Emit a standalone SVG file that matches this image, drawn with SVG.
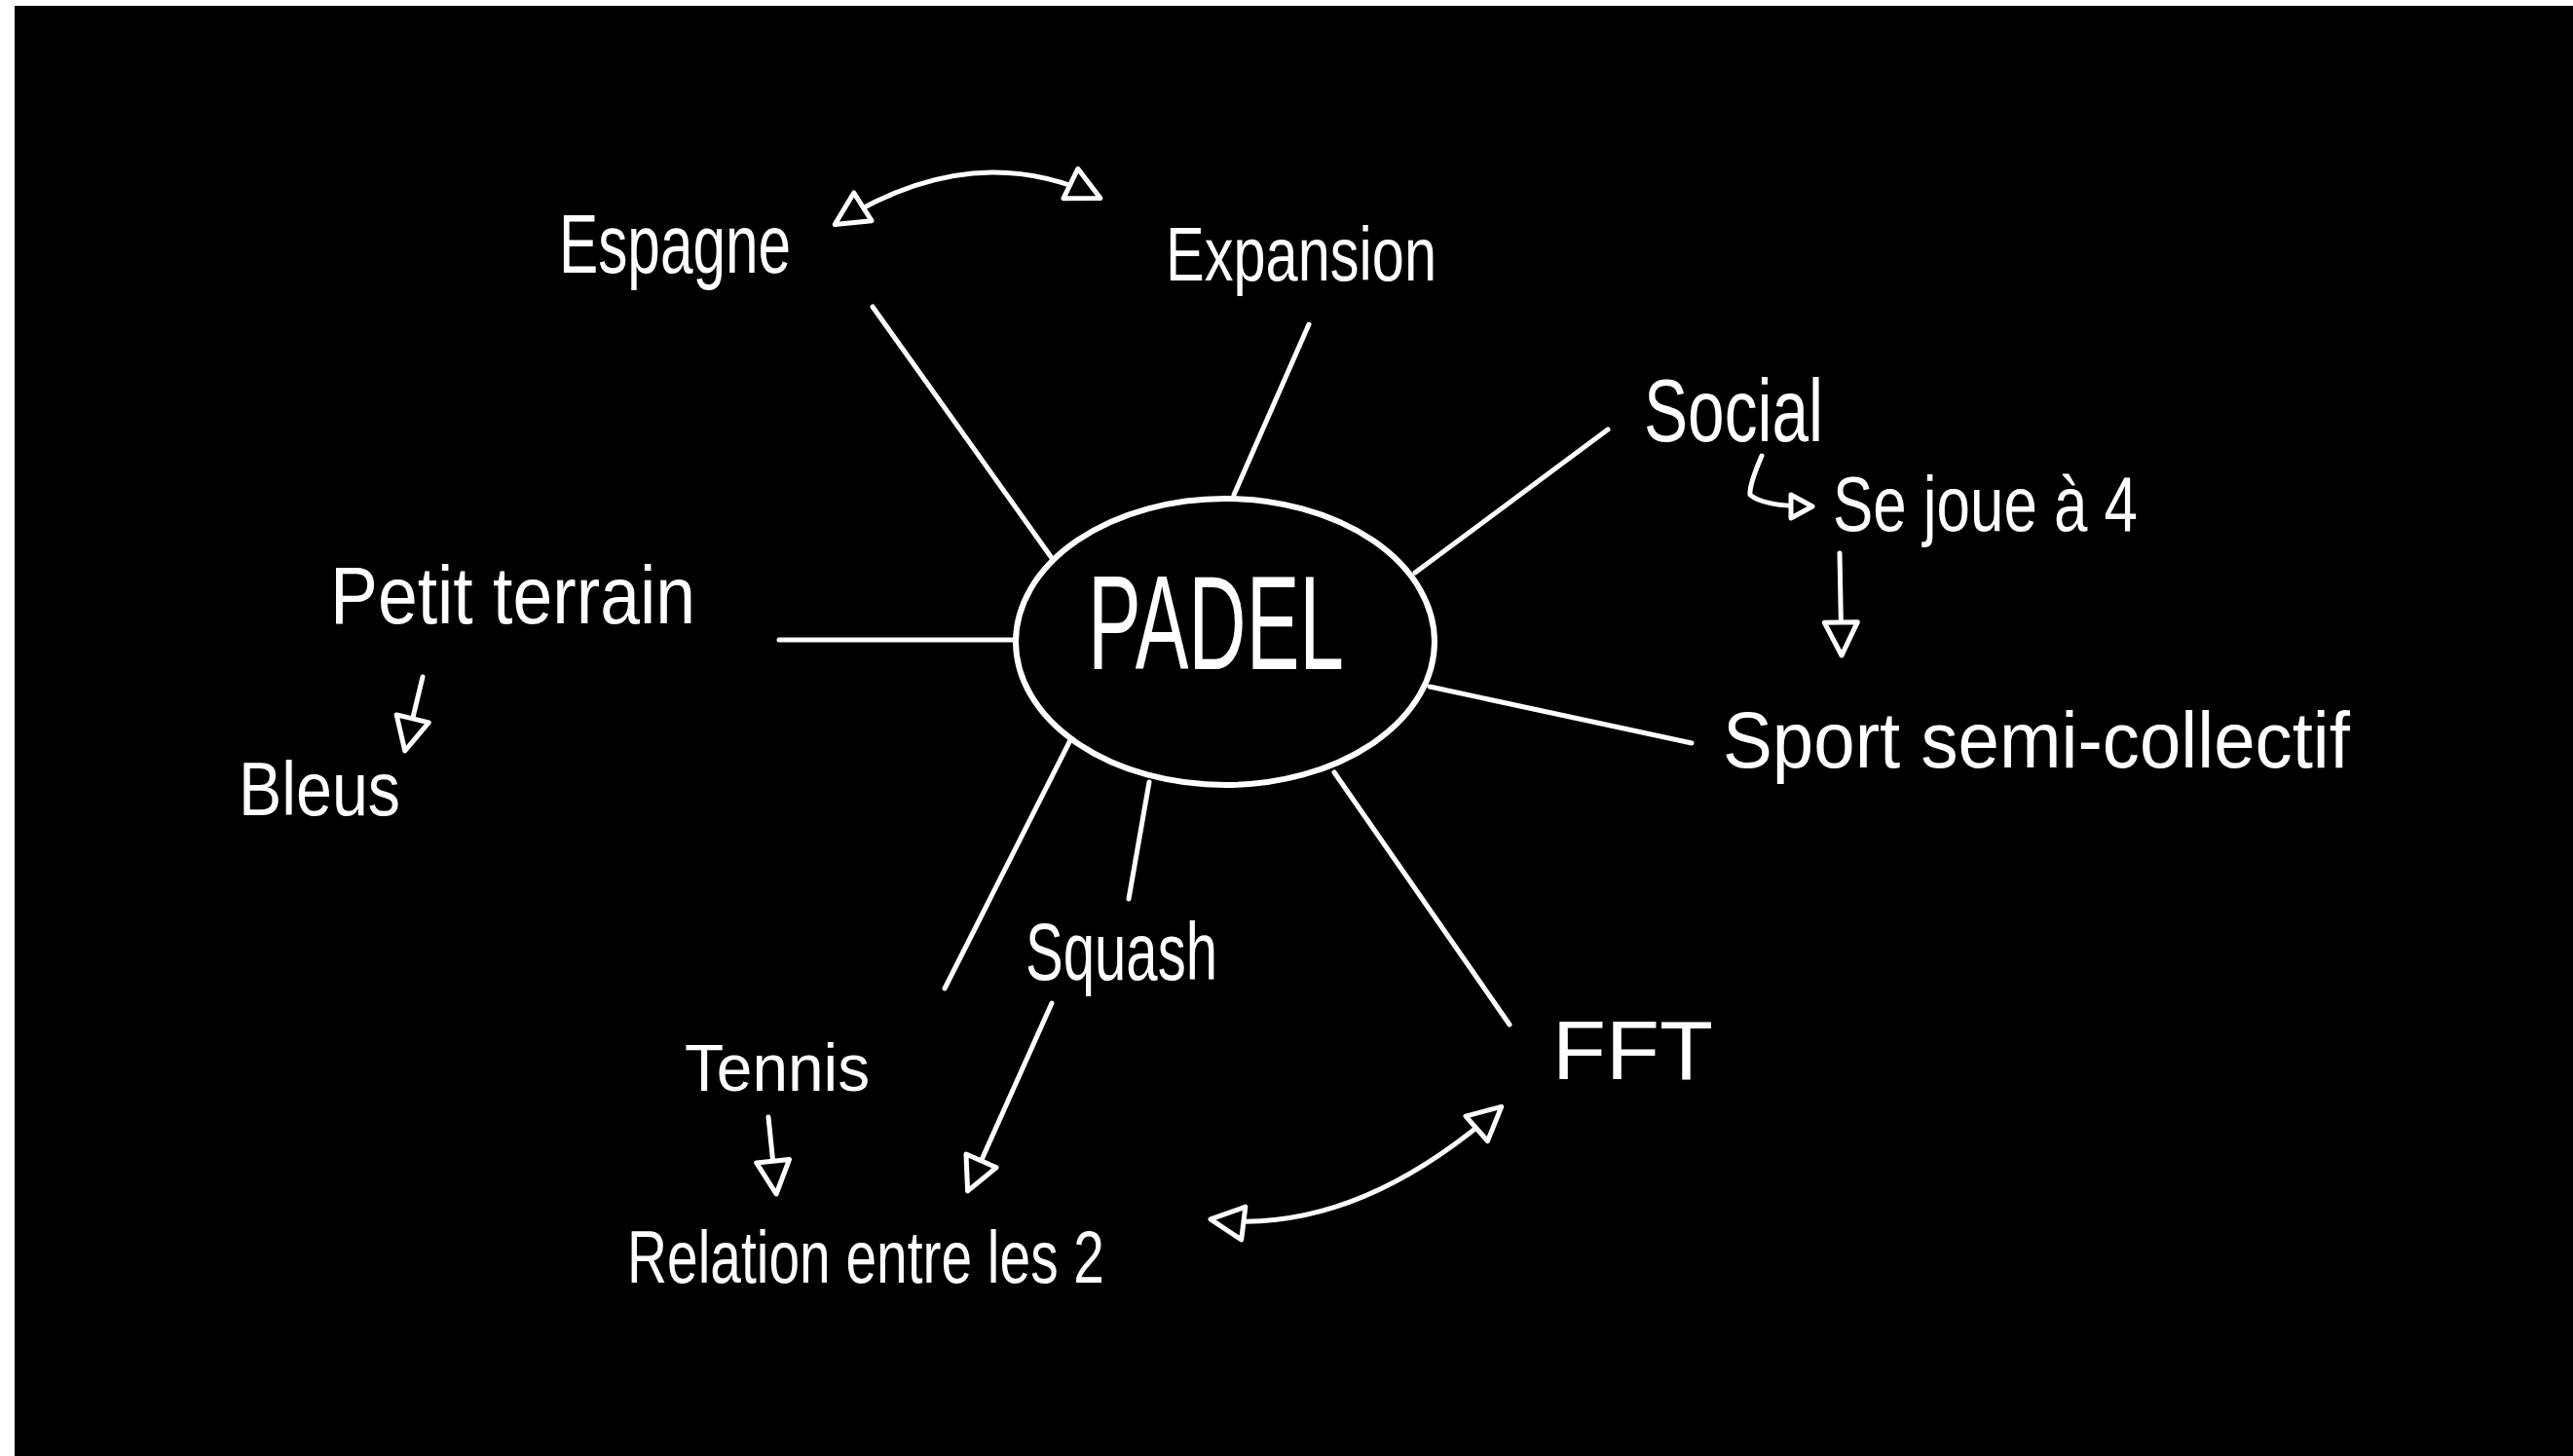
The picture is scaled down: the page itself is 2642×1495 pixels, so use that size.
<svg xmlns="http://www.w3.org/2000/svg" width="2642" height="1495" viewBox="0 0 2642 1495">
<style>
.bg{fill:#000}
.lbl{font-family:"Liberation Sans","DejaVu Sans",sans-serif;fill:#fff}
.ln{stroke:#fff;stroke-width:5;fill:none;stroke-linecap:round;stroke-linejoin:round}
.ar{marker-end:url(#tri)}
.ar2{marker-start:url(#tri);marker-end:url(#tri)}
</style>
<defs>
<marker id="tri" markerUnits="userSpaceOnUse" viewBox="0 0 40 40" markerWidth="40" markerHeight="40" refX="36" refY="20" orient="auto-start-reverse" overflow="visible">
<path d="M3,3 L37,20 L3,37 Z" fill="#000" stroke="#fff" stroke-width="5" stroke-linejoin="round"/>
</marker>
<marker id="tris" markerUnits="userSpaceOnUse" viewBox="0 0 30 30" markerWidth="30" markerHeight="30" refX="25" refY="15" orient="auto" overflow="visible">
<path d="M4,3 L26,15 L4,27 Z" fill="#000" stroke="#fff" stroke-width="5" stroke-linejoin="round"/>
</marker>
</defs>
<rect x="0" y="0" width="2642" height="1495" fill="#fff"/>
<rect class="bg" x="15" y="6" width="2627" height="1489"/>

<g id="connectors">
<line class="ln" x1="896" y1="315" x2="1080" y2="573"/>
<line class="ln" x1="1344" y1="333" x2="1267" y2="508"/>
<line class="ln" x1="1651" y1="441" x2="1453" y2="588"/>
<line class="ln" x1="1468" y1="705" x2="1737" y2="763"/>
<line class="ln" x1="800" y1="657" x2="1043" y2="657"/>
<line class="ln" x1="1100" y1="758" x2="970" y2="1015"/>
<line class="ln" x1="1180" y1="803" x2="1159" y2="923"/>
<line class="ln" x1="1370" y1="793" x2="1550" y2="1052"/>
<path class="ln ar2" d="M858,230 Q1000,140 1129,203"/>
<path class="ln" style="marker-end:url(#tris)" d="M1809,468 Q1796,498 1797,508 Q1810,520 1860,520"/>
<path class="ln ar" d="M1889,568 L1891,672"/>
<path class="ln ar" d="M434,695 L416,770"/>
<path class="ln ar" d="M1080,1030 L994,1222"/>
<path class="ln ar" d="M789,1147 L797,1225"/>
<path class="ln ar2" d="M1541,1137 Q1390,1270 1244,1252"/>
</g>

<g id="node-padel">
<ellipse cx="1258" cy="659" rx="215" ry="147" fill="none" stroke="#fff" stroke-width="6"/>
<text class="lbl" x="1117" y="687" font-size="138" textLength="263" lengthAdjust="spacingAndGlyphs">PADEL</text>
</g>
<g id="node-espagne"><text class="lbl" x="574" y="280" font-size="86" textLength="238" lengthAdjust="spacingAndGlyphs">Espagne</text></g>
<g id="node-expansion"><text class="lbl" x="1197" y="288" font-size="78" textLength="278" lengthAdjust="spacingAndGlyphs">Expansion</text></g>
<g id="node-social"><text class="lbl" x="1688" y="453" font-size="90" textLength="184" lengthAdjust="spacingAndGlyphs">Social</text></g>
<g id="node-sejoue"><text class="lbl" x="1882" y="545" font-size="80" textLength="313" lengthAdjust="spacingAndGlyphs">Se joue à 4</text></g>
<g id="node-sport"><text class="lbl" x="1769" y="788" font-size="82" textLength="644" lengthAdjust="spacingAndGlyphs">Sport semi-collectif</text></g>
<g id="node-petit"><text class="lbl" x="339" y="640" font-size="84" textLength="375" lengthAdjust="spacingAndGlyphs">Petit terrain</text></g>
<g id="node-bleus"><text class="lbl" x="245" y="837" font-size="78" textLength="166" lengthAdjust="spacingAndGlyphs">Bleus</text></g>
<g id="node-squash"><text class="lbl" x="1053" y="1006" font-size="84" textLength="197" lengthAdjust="spacingAndGlyphs">Squash</text></g>
<g id="node-tennis"><text class="lbl" x="703" y="1120" font-size="68" textLength="190" lengthAdjust="spacingAndGlyphs">Tennis</text></g>
<g id="node-relation"><text class="lbl" x="644" y="1317" font-size="76" textLength="490" lengthAdjust="spacingAndGlyphs">Relation entre les 2</text></g>
<g id="node-fft"><text class="lbl" x="1594" y="1108" font-size="86" textLength="165" lengthAdjust="spacingAndGlyphs">FFT</text></g>
</svg>
